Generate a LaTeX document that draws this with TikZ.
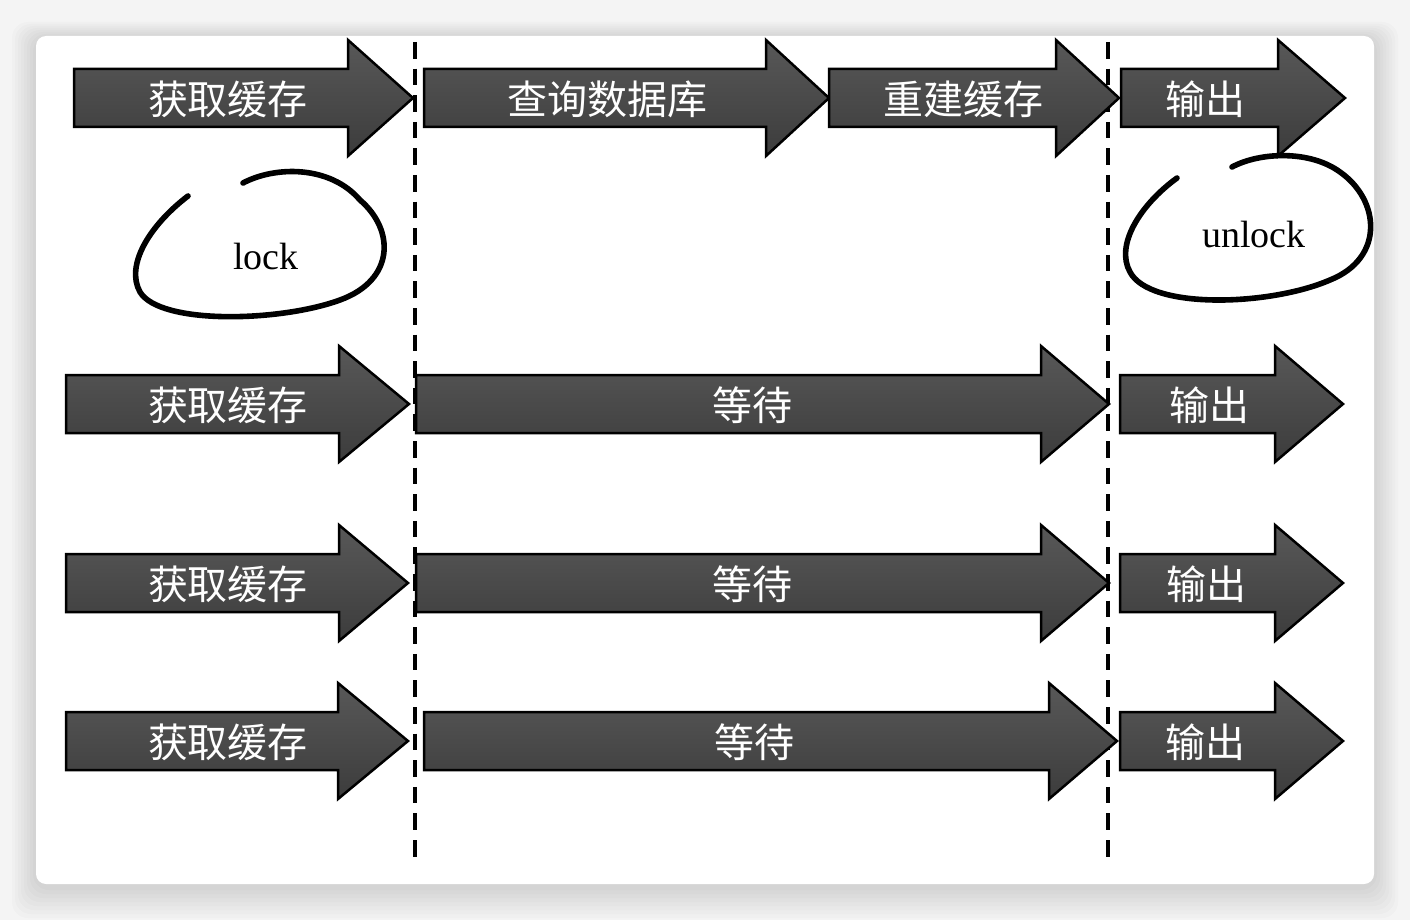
\documentclass[tikz,border=0pt]{standalone}
\usepackage{fontspec}
\usepackage{tikz}
\newfontfamily\cjk{Noto Sans CJK SC}
\newfontfamily\handfont{Liberation Serif}
\definecolor{pagebg}{HTML}{F4F4F4}
\definecolor{arrowtop}{HTML}{585858}
\definecolor{arrowbot}{HTML}{3C3C3C}

% one block arrow: name, left, head start, tip, centre y, label x, label
\newcommand{\flowarrow}[7]{%
  \draw[flow] (#2,#5-29) -- (#3,#5-29) -- (#3,#5-58) -- (#4,#5)
              -- (#3,#5+58) -- (#3,#5+29) -- (#2,#5+29) -- cycle;
  \node [flowtext] (#1) at (#6,#5+1) {#7};}

\begin{document}
\begin{tikzpicture}[x = 0.5pt, y = -0.5pt,
                    flow/.style = {draw = black, line width = 1.25pt, line join = miter,
                                   top color = arrowtop, bottom color = arrowbot},
                    flowtext/.style = {text = white, font = \cjk\fontsize{20}{22}\selectfont, inner sep = 0pt},
                    loop/.style = {line width = 2.8pt, line cap = round},
                    looptext/.style = {font = \handfont\fontsize{19}{21}\selectfont, inner sep = 0pt},
                    divider/.style = {line width = 1.6pt, dash pattern = on 8.3pt off 5pt}]
      \useasboundingbox (0, 0) rectangle (1410, 920);
      \fill [pagebg] (0, 0) rectangle (1410, 920);

      % card and its shadow
      \foreach \s in {1, ..., 8}
        \fill [black, opacity = 0.016, rounded corners = 8pt]
          (36 - 3*\s, 38 - 2*\s) rectangle (1374 + 3*\s, 886 + 4*\s);
      \fill [white, rounded corners = 5pt] (36, 36) rectangle (1374, 884);

      % phase borders
      \coordinate (d1top) at (415, 42);
      \coordinate (d1bot) at (415, 860);
      \coordinate (d2top) at (1108, 42);
      \coordinate (d2bot) at (1108, 860);
      \draw [divider] (d1top) -- (d1bot);
      \draw [divider] (d2top) -- (d2bot);

      % first request
      \flowarrow{get1}{74}{348}{413}{98}{228}{获取缓存}
      \flowarrow{query}{424}{766}{829}{98}{607}{查询数据库}
      \flowarrow{rebuild}{829}{1056}{1119}{98}{963}{重建缓存}
      \flowarrow{out1}{1121}{1278}{1345}{98}{1205}{输出}

      % waiting requests
      \flowarrow{get2}{66}{339}{409}{404}{228}{获取缓存}
      \flowarrow{wait2}{416}{1041}{1109}{404}{752}{等待}
      \flowarrow{out2}{1120}{1275}{1343}{404}{1209}{输出}

      \flowarrow{get3}{66}{339}{408}{583}{228}{获取缓存}
      \flowarrow{wait3}{416}{1041}{1109}{583}{752}{等待}
      \flowarrow{out3}{1120}{1275}{1343}{583}{1206}{输出}

      \flowarrow{get4}{66}{338}{408}{741}{228}{获取缓存}
      \flowarrow{wait4}{424}{1049}{1117}{741}{754}{等待}
      \flowarrow{out4}{1120}{1275}{1343}{741}{1205}{输出}

      % lock / unlock marks
      \draw [loop] (188, 196) .. controls (150, 225) and (125, 265) .. (140, 292)
                   .. controls (160, 325) and (280, 322) .. (340, 300)
                   .. controls (395, 280) and (395, 230) .. (360, 200)
                   .. controls (330, 165) and (275, 166) .. (243, 183);
      \node [looptext, anchor = base] (lock) at (266, 270) {lock};

      \draw [loop] (1177, 178) .. controls (1140, 205) and (1115, 245) .. (1130, 272)
                   .. controls (1150, 310) and (1270, 306) .. (1330, 280)
                   .. controls (1385, 258) and (1380, 200) .. (1340, 172)
                   .. controls (1310, 150) and (1260, 152) .. (1232, 167);
      \node [looptext, anchor = base] (unlock) at (1254, 248) {unlock};
      \end{tikzpicture}
\end{document}
